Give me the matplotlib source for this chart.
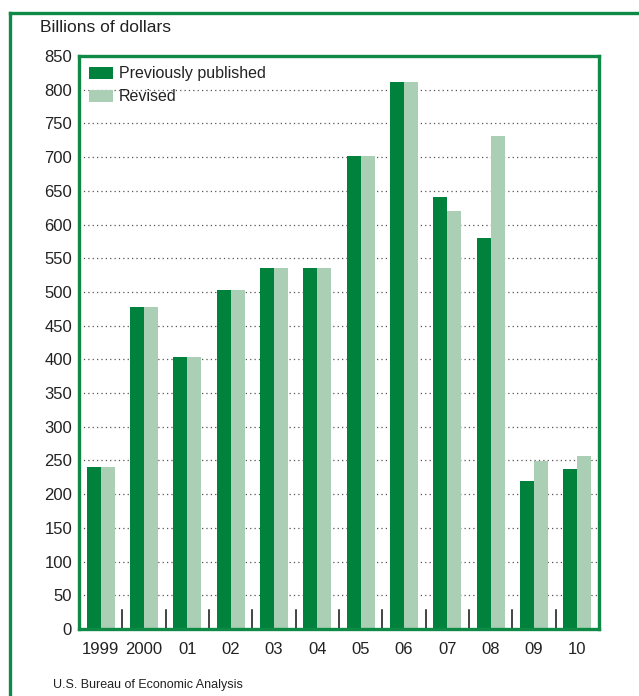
import matplotlib
matplotlib.use("Agg")
import matplotlib.pyplot as plt
import numpy as np
from matplotlib.lines import Line2D

years = ["1999", "2000", "01", "02", "03", "04", "05", "06", "07", "08", "09", "10"]
previously_published = [241, 478, 403, 503, 535, 535, 701, 811, 641, 580, 220, 238]
revised = [241, 478, 403, 503, 535, 535, 701, 811, 620, 732, 249, 256]
y_ticks = list(range(0, 851, 50))

DARK = "#00823D"
LIGHT = "#ABCFB4"
FRAME = "#0F8A46"

plt.rcParams['font.family'] = ['Liberation Sans', 'DejaVu Sans']

W, H = 639, 696
fig = plt.figure(figsize=(W / 100, H / 100), dpi=100)
ax = fig.add_axes([79 / W, 1 - 629 / H, (599 - 79) / W, (629 - 56) / H])

x = np.arange(len(years))
bw = 0.32
ax.bar(x - bw / 2, previously_published, width=bw, color=DARK, label="Previously published", zorder=3)
ax.bar(x + bw / 2, revised, width=bw, color=LIGHT, label="Revised", zorder=3)

ax.set_xlim(-0.5, len(years) - 0.5)
ax.set_ylim(0, 850)
ax.set_yticks(y_ticks)
ax.set_yticklabels([str(v) for v in y_ticks], fontsize=12, color="#222222")
ax.set_xticks(x)
ax.set_xticklabels(years, fontsize=12, color="#222222")
ax.tick_params(axis="both", length=0)
ax.tick_params(axis="y", pad=5)
ax.tick_params(axis="x", pad=9)

for v in y_ticks[1:-1]:
    ax.axhline(v, color="#555555", lw=0.9, ls=(0, (1, 2.5)), zorder=1)

# separators between year groups
for b in x[:-1] + 0.5:
    ax.plot([b, b], [0, 28], color="#111111", lw=1.1, zorder=4, clip_on=False)

for s in ax.spines.values():
    s.set_color(FRAME)
    s.set_linewidth(2.4)
    s.set_zorder(5)

leg = ax.legend(loc="upper left", bbox_to_anchor=(0.0, 1.0), frameon=False,
                fontsize=11.5, handlelength=1.45, handleheight=0.75,
                handletextpad=0.4, labelspacing=0.5, borderaxespad=0.45,
                borderpad=0.2)
for t in leg.get_texts():
    t.set_color("#222222")

fig.text(40 / W, 1 - 28 / H, "Billions of dollars", fontsize=12.5, va="center", ha="left", color="#222222")
fig.text(53 / W, 1 - 685 / H, "U.S. Bureau of Economic Analysis", fontsize=9, va="center", ha="left", color="#222222")

# outer frame
fig.add_artist(Line2D([10 / W, 10 / W], [0, 1 - 13 / H], color=FRAME, lw=2.4))
fig.add_artist(Line2D([10 / W, 1], [1 - 13 / H, 1 - 13 / H], color=FRAME, lw=2.4))

fig.savefig("out.png", dpi=100)
